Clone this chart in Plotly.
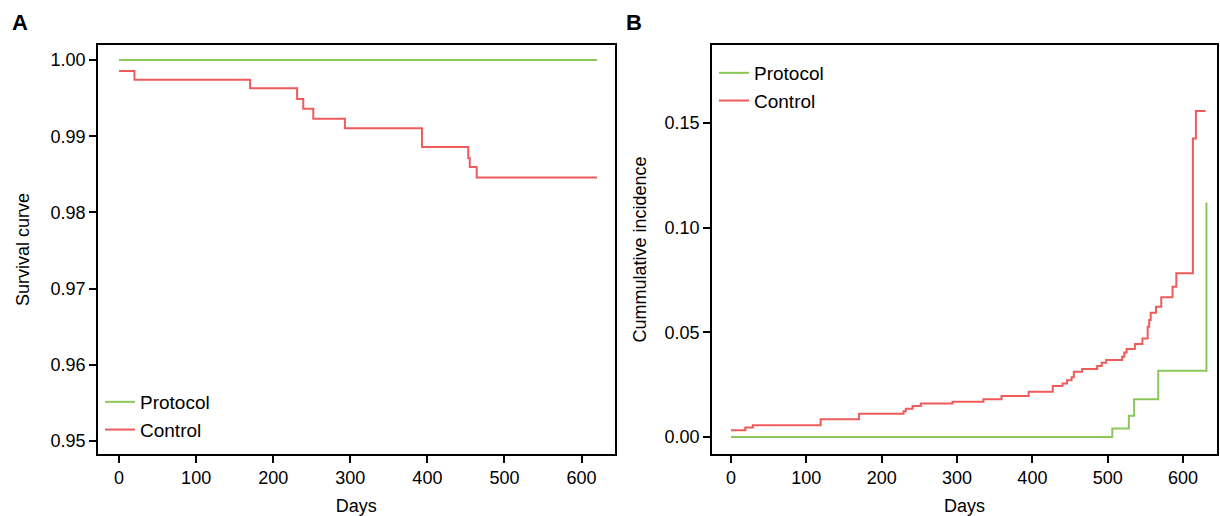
import plotly.graph_objects as go

# Panel A: survival
a_protocol_days = [0, 620]
a_protocol_surv = [1.0, 1.0]
a_control_days = [0, 20, 170, 231, 239, 252, 293, 393, 453, 455, 464, 620]
a_control_surv = [0.99855, 0.99741, 0.99628, 0.99487, 0.9936, 0.99228, 0.99105, 0.9886, 0.98715, 0.98597, 0.98457, 0.98457]

# Panel B: cumulative incidence
b_control_days = [0, 19, 29, 119, 170, 229, 232, 241, 252, 294, 335, 359, 395, 427, 440, 446, 452, 455, 466, 486, 492, 498,
                  519, 522, 525, 536, 546, 553, 555, 557, 564, 571, 586, 591, 613, 617, 630]
b_control_inc = [0.0033, 0.0045, 0.0056, 0.0085, 0.0111, 0.0123, 0.0135, 0.0148, 0.0160, 0.0169, 0.0181, 0.0196, 0.0216,
                 0.0244, 0.0256, 0.0271, 0.0285, 0.0312, 0.0325, 0.0339, 0.0355, 0.0368, 0.0383, 0.0404, 0.0420, 0.0444,
                 0.0470, 0.0527, 0.0559, 0.0594, 0.0622, 0.0667, 0.0718, 0.0782, 0.1425, 0.1557, 0.1557]
b_protocol_days = [0, 506, 528, 535, 567, 631]
b_protocol_inc = [0.0, 0.0041, 0.0102, 0.0181, 0.0317, 0.112]

GREEN = "#8cc859"
RED = "#ef5b5b"
W, H = 1220, 516
FONT = "Liberation Sans, Arial, sans-serif"

fig = go.Figure()
fig.add_trace(go.Scatter(x=a_protocol_days, y=a_protocol_surv, mode="lines", line=dict(color=GREEN, width=2, shape="hv"),
                         name="Protocol", xaxis="x", yaxis="y", legend="legend"))
fig.add_trace(go.Scatter(x=a_control_days, y=a_control_surv, mode="lines", line=dict(color=RED, width=2, shape="hv"),
                         name="Control", xaxis="x", yaxis="y", legend="legend"))
fig.add_trace(go.Scatter(x=b_protocol_days, y=b_protocol_inc, mode="lines", line=dict(color=GREEN, width=2, shape="hv"),
                         name="Protocol", xaxis="x2", yaxis="y2", legend="legend2"))
fig.add_trace(go.Scatter(x=b_control_days, y=b_control_inc, mode="lines", line=dict(color=RED, width=2, shape="hv"),
                         name="Control", xaxis="x2", yaxis="y2", legend="legend2"))

ydom = [1 - 454 / H, 1 - 45 / H]
axcommon = dict(showline=True, linecolor="black", linewidth=1.5, mirror=True, ticks="outside", ticklen=7,
                tickwidth=1.5, tickcolor="black", showgrid=False, zeroline=False,
                tickfont=dict(size=18, color="black", family=FONT))
fig.update_layout(
    width=W, height=H, margin=dict(l=0, r=0, t=0, b=0),
    plot_bgcolor="white", paper_bgcolor="white", font=dict(family=FONT, color="black"),
    xaxis=dict(domain=[98 / W, 614.7 / W], range=[-27.3, 643], tickvals=[0, 100, 200, 300, 400, 500, 600],
               title=dict(text="Days", font=dict(size=18), standoff=12), anchor="y", **axcommon),
    yaxis=dict(domain=ydom, range=[0.9483, 1.00197], tickvals=[0.95, 0.96, 0.97, 0.98, 0.99, 1.0],
               tickformat=".2f", title=dict(text="Survival curve", font=dict(size=18), standoff=16), anchor="x", **axcommon),
    xaxis2=dict(domain=[712 / W, 1217 / W], range=[-25.2, 645], tickvals=[0, 100, 200, 300, 400, 500, 600],
                title=dict(text="Days", font=dict(size=18), standoff=12), anchor="y2", **axcommon),
    yaxis2=dict(domain=ydom, range=[-0.0081, 0.1872], tickvals=[0, 0.05, 0.10, 0.15], tickformat=".2f",
                title=dict(text="Cummulative incidence", font=dict(size=18), standoff=13), anchor="x2", **axcommon),
    legend=dict(x=100 / W, y=1 - 383 / H, xanchor="left", yanchor="top", bgcolor="rgba(0,0,0,0)",
                font=dict(size=19), tracegroupgap=0),
    legend2=dict(x=714 / W, y=1 - 54 / H, xanchor="left", yanchor="top", bgcolor="rgba(0,0,0,0)",
                 font=dict(size=19), tracegroupgap=0),
    annotations=[
        dict(text="<b>A</b>", x=10 / W, y=1 - 8 / H, xref="paper", yref="paper", xanchor="left", yanchor="top",
             showarrow=False, font=dict(size=22)),
        dict(text="<b>B</b>", x=624 / W, y=1 - 8 / H, xref="paper", yref="paper", xanchor="left", yanchor="top",
             showarrow=False, font=dict(size=22)),
    ],
)
fig.write_html("out.html", config={"displayModeBar": False},
               post_script="document.body.style.margin='0';document.body.style.overflow='hidden';")
